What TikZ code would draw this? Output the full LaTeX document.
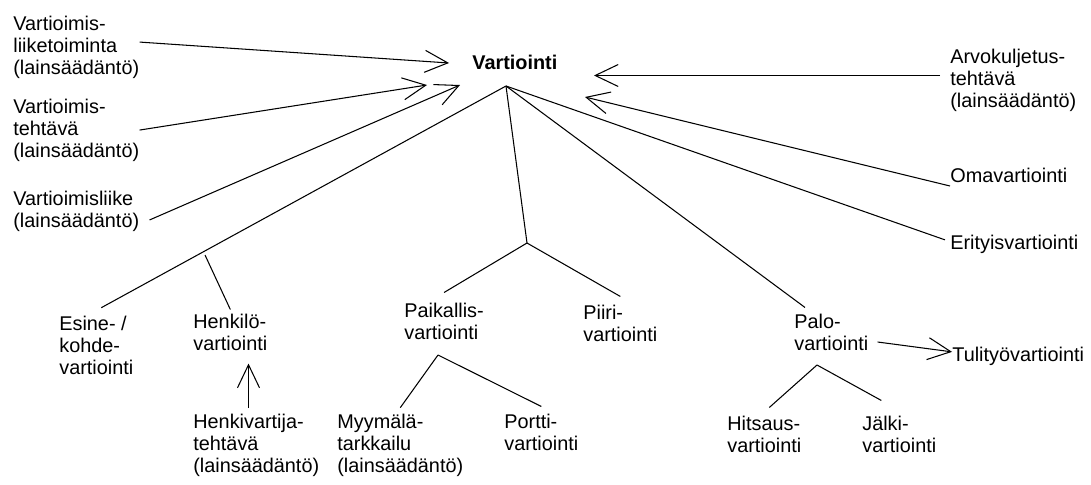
\documentclass[tikz,border=0pt]{standalone}
\usepackage{fontspec}
\setmainfont{Liberation Sans}
\usetikzlibrary{arrows.meta,positioning}

\begin{document}
\begin{tikzpicture}[
  x=0.2mm,y=-0.2mm,
  every node/.style={font=\fontsize{11.3}{12.4}\selectfont},
  term/.style={anchor=base west,align=left,inner sep=0pt},
  link/.style={line width=0.6pt},
  feed/.style={link,-{Straight Barb[length=4.6mm,width=4.4mm]}}
]
  \useasboundingbox (0,0) rectangle (1091,484);

  % top level
  \node[term] (vart) at (472,69) {\bfseries Vartiointi};
  \coordinate (apex) at (506,86);

  % law sources, left (base = last line)
  \node[term] (liike) at (13,74) {Vartioimis-\\liiketoiminta\\(lainsäädäntö)};
  \node[term] (tehtava) at (13,157) {Vartioimis-\\tehtävä\\(lainsäädäntö)};
  \node[term] (vliike) at (13,227) {Vartioimisliike\\(lainsäädäntö)};

  % right side
  \node[term] (arvo) at (950,107) {Arvokuljetus-\\tehtävä\\(lainsäädäntö)};
  \node[term] (oma) at (950,182) {Omavartiointi};
  \node[term] (erit) at (950,249) {Erityisvartiointi};

  % lower branches
  \node[term] (esine) at (59,374) {Esine- /\\kohde-\\vartiointi};
  \node[term] (henk) at (193,350) {Henkilö-\\vartiointi};
  \node[term] (henkv) at (193,472) {Henkivartija-\\tehtävä\\(lainsäädäntö)};
  \node[term] (paik) at (404,339) {Paikallis-\\vartiointi};
  \node[term] (piiri) at (583,341) {Piiri-\\vartiointi};
  \node[term] (myym) at (337,472) {Myymälä-\\tarkkailu\\(lainsäädäntö)};
  \node[term] (portti) at (504,450) {Portti-\\vartiointi};
  \node[term] (palo) at (794,350) {Palo-\\vartiointi};
  \node[term] (tuli) at (952,361) {Tulityövartiointi};
  \node[term] (hits) at (727,452) {Hitsaus-\\vartiointi};
  \node[term] (jalki) at (862,452) {Jälki-\\vartiointi};

  % junctions and arrow tips
  \coordinate (brL) at (205,255);
  \coordinate (fk) at (527,243);
  \coordinate (pk) at (438,355);
  \coordinate (pf) at (817,365);
  \coordinate (in1) at (449,63);
  \coordinate (in2) at (427,85);
  \coordinate (in3) at (460,85);
  \coordinate (in4) at (594,75.5);
  \coordinate (in5) at (585,97);
  \coordinate (hv) at (248.5,408);

  % arrows into Vartiointi
  \draw[feed] ([yshift=1mm]liike.east) -- (in1);
  \draw[feed] (tehtava.east) -- (in2);
  \draw[feed] ([xshift=2mm,yshift=-1.8mm]vliike.east) -- (in3);
  \draw[feed] ([xshift=-2mm]arvo.west |- in4) -- (in4);
  \draw[feed] ([yshift=-0.8mm]oma.base west) -- (in5);

  % tree
  \draw[link] (apex) -- ([xshift=1mm,yshift=1.6mm]esine.north);
  \draw[link] (brL) -- ([yshift=0.8mm]henk.north);
  \draw[link] (apex) -- (fk);
  \draw[link] (fk) -- ([yshift=2mm]paik.north);
  \draw[link] (fk) -- ([yshift=1.6mm]piiri.north);
  \draw[link] (pk) -- ([yshift=1.2mm]myym.north);
  \draw[link] (pk) -- ([yshift=1.4mm]portti.north);
  \draw[link] (apex) -- ([xshift=2.2mm,yshift=1.2mm]palo.north west);
  \draw[link] (apex) -- ([xshift=-1mm,yshift=0.8mm]erit.west);
  \draw[link] (pf) -- ([xshift=1mm,yshift=1.6mm]hits.north);
  \draw[link] (pf) -- ([xshift=-3.6mm,yshift=3mm]jalki.north);

  % side arrows
  \draw[feed] (hv) -- ([yshift=-2.6mm]hv |- henk.south);
  \draw[feed] ([xshift=1.8mm,yshift=-2mm]palo.east) -- ([yshift=0.8mm]tuli.west);
\end{tikzpicture}
\end{document}
